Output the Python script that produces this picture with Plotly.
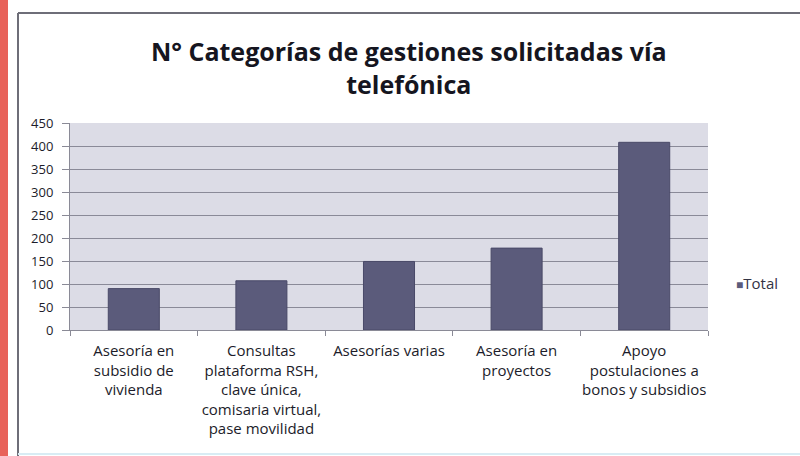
import plotly.graph_objects as go

categories = [
    "Asesoría en<br>subsidio de<br>vivienda",
    "Consultas<br>plataforma RSH,<br>clave única,<br>comisaria virtual,<br>pase movilidad",
    "Asesorías varias",
    "Asesoría en<br>proyectos",
    "Apoyo<br>postulaciones a<br>bonos y subsidios",
]
totals = [90, 107, 149, 178, 408]
y_ticks = [0, 50, 100, 150, 200, 250, 300, 350, 400, 450]
series_name = "Total"

W, H = 800, 456
L, R, T, B = 70, 92, 123, 126
pw, ph = W - L - R, H - T - B

def px(x):
    return (x - L) / pw

def py(y):
    return (H - B - y) / ph

fig = go.Figure()
fig.add_trace(go.Bar(
    x=categories, y=totals, name=series_name,
    marker=dict(color="#5b5b7b", line=dict(color="#4a4a68", width=1)),
    width=0.4, showlegend=False,
))

fig.update_layout(
    width=W, height=H,
    margin=dict(l=L, r=R, t=T, b=B, autoexpand=False),
    paper_bgcolor="white",
    plot_bgcolor="#dcdce6",
    font=dict(family="'Open Sans', sans-serif", color="#222233", size=12),
    title=dict(
        text="<b>N° Categorías de gestiones solicitadas vía<br>telefónica</b>",
        x=0.511, xanchor="center", y=1 - 61 / H, yanchor="middle",
        font=dict(size=25, color="#151520", family="'Open Sans', sans-serif"),
    ),
    showlegend=False,
)
fig.update_yaxes(
    range=[0, 450], tickvals=y_ticks, ticks="outside", ticklen=7,
    tickcolor="#8a8a96", showgrid=True, gridcolor="#8a8a98", gridwidth=1,
    showline=True, linecolor="#8a8a96", linewidth=1, ticklabelstandoff=6,
    tickfont=dict(size=13, color="#1c1c2a"), zeroline=False,
)
fig.update_xaxes(
    ticks="outside", tickson="boundaries", ticklen=5, tickcolor="#8a8a96",
    showline=True, linecolor="#8a8a96", linewidth=1, ticklabelstandoff=7,
    tickfont=dict(size=15, color="#1c1c2a"), tickangle=0,
)

fig.add_annotation(
    xref="paper", yref="paper", x=px(734), y=py(283), xanchor="left", yanchor="middle",
    text="<span style='font-size:12px;color:#5b5b7b'>■</span>" + series_name,
    showarrow=False, font=dict(size=15, color="#333344"),
)

shapes = [
    dict(type="rect", xref="paper", yref="paper", x0=px(0), x1=px(8), y0=py(0), y1=py(H),
         fillcolor="#e8625a", line=dict(width=0), layer="below"),
    dict(type="line", xref="paper", yref="paper", x0=px(18), x1=px(18), y0=py(13), y1=py(H),
         line=dict(color="#6e6e78", width=2)),
    dict(type="line", xref="paper", yref="paper", x0=px(18), x1=px(W), y0=py(13), y1=py(13),
         line=dict(color="#6e6e78", width=2)),
    dict(type="line", xref="paper", yref="paper", x0=px(18), x1=px(W), y0=py(454), y1=py(454),
         line=dict(color="#d8ecf4", width=2)),
]
fig.update_layout(shapes=shapes)

fig.write_html("out.html", config={"displayModeBar": False},
               post_script="document.body.style.margin='0';")
